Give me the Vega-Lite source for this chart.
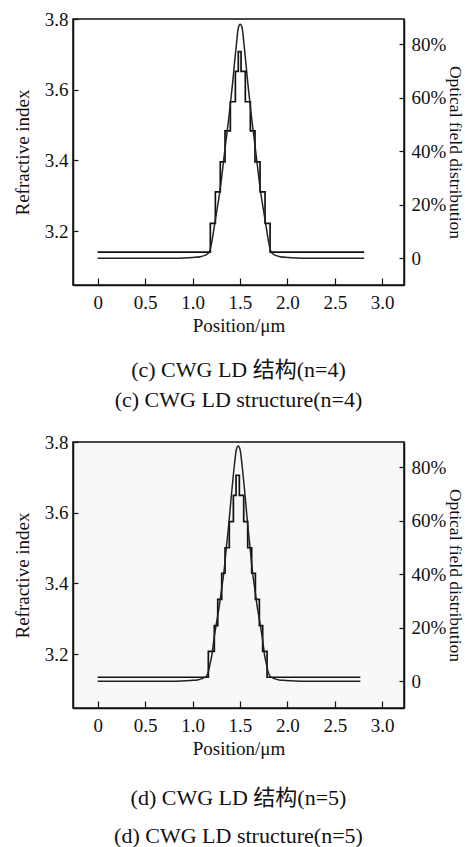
{
  "$schema": "https://vega.github.io/schema/vega-lite/v6.json",
  "padding": {"left": 12, "top": 9, "right": 0, "bottom": 0},
  "background": "white",
  "spacing": 20,
  "config": {
    "font": "Liberation Serif",
    "view": {"stroke": "#111", "strokeWidth": 1.5},
    "axis": {
      "grid": false, "domain": true, "domainColor": "#111", "domainWidth": 1.5,
      "tickColor": "#111", "tickWidth": 1.2, "labelFlush": false,
      "labelFont": "Liberation Serif", "labelFontSize": 19, "labelColor": "#111",
      "titleFont": "Liberation Serif", "titleFontSize": 19, "titleFontWeight": "normal", "titleColor": "#111"
    },
    "title": {"font": "Liberation Serif, Noto Sans CJK SC", "subtitleFont": "Liberation Serif, Noto Sans CJK SC", "fontWeight": "normal", "subtitleFontWeight": "normal", "fontSize": 22, "subtitleFontSize": 22, "color": "#111", "subtitleColor": "#111", "anchor": "middle", "orient": "bottom"}
  },
  "vconcat": [
    {
      "width": 331, "height": 266,
      "title": {"text": "(c) CWG LD 结构(n=4)", "subtitle": "(c) CWG LD structure(n=4)", "orient": "bottom", "offset": 25, "subtitlePadding": 8},
      "layer": [
        {
          "data": {"values": [
            {"x": 0, "n": 3.141}, {"x": 1.188, "n": 3.222}, {"x": 1.241, "n": 3.311}, {"x": 1.293, "n": 3.396},
            {"x": 1.343, "n": 3.484}, {"x": 1.399, "n": 3.566}, {"x": 1.452, "n": 3.652}, {"x": 1.483, "n": 3.708},
            {"x": 1.512, "n": 3.652}, {"x": 1.557, "n": 3.566}, {"x": 1.61, "n": 3.484}, {"x": 1.659, "n": 3.396},
            {"x": 1.712, "n": 3.311}, {"x": 1.765, "n": 3.222}, {"x": 1.818, "n": 3.141}, {"x": 2.81, "n": 3.141}
          ]},
          "mark": {"type": "line", "interpolate": "step-after", "color": "#111", "strokeWidth": 1.7},
          "encoding": {
            "x": {"field": "x", "type": "quantitative", "scale": {"domain": [-0.26, 3.23], "nice": false, "zero": false},
                  "axis": {"title": "Position/μm", "values": [0, 0.5, 1, 1.5, 2, 2.5, 3], "labelExpr": "datum.value == 0 ? '0' : format(datum.value, '.1f')", "tickSize": -7, "labelPadding": 15, "titlePadding": 4}},
            "y": {"field": "n", "type": "quantitative", "scale": {"domain": [3.048, 3.8], "nice": false, "zero": false},
                  "axis": {"orient": "left", "title": "Refractive index", "values": [3.2, 3.4, 3.6, 3.8], "format": ".1f", "tickSize": -5, "labelPadding": 10, "titlePadding": 12}}
          }
        },
        {
          "data": {"values": [
            {"x": 0, "E": 0}, {"x": 0.803, "E": 0}, {"x": 0.903, "E": 0.001}, {"x": 1.003, "E": 0.003}, {"x": 1.083, "E": 0.006},
            {"x": 1.123, "E": 0.01}, {"x": 1.153, "E": 0.015}, {"x": 1.173, "E": 0.022}, {"x": 1.188, "E": 0.035}, {"x": 1.203, "E": 0.06},
            {"x": 1.228, "E": 0.115}, {"x": 1.253, "E": 0.17}, {"x": 1.278, "E": 0.225}, {"x": 1.303, "E": 0.29}, {"x": 1.328, "E": 0.365},
            {"x": 1.353, "E": 0.44}, {"x": 1.378, "E": 0.51}, {"x": 1.403, "E": 0.59}, {"x": 1.423, "E": 0.655}, {"x": 1.443, "E": 0.73},
            {"x": 1.463, "E": 0.8}, {"x": 1.483, "E": 0.862}, {"x": 1.503, "E": 0.875},
            {"x": 1.523, "E": 0.862}, {"x": 1.543, "E": 0.8}, {"x": 1.563, "E": 0.73}, {"x": 1.583, "E": 0.655}, {"x": 1.603, "E": 0.59},
            {"x": 1.628, "E": 0.51}, {"x": 1.653, "E": 0.44}, {"x": 1.678, "E": 0.365}, {"x": 1.703, "E": 0.29}, {"x": 1.728, "E": 0.225},
            {"x": 1.753, "E": 0.17}, {"x": 1.778, "E": 0.115}, {"x": 1.803, "E": 0.06}, {"x": 1.818, "E": 0.035}, {"x": 1.833, "E": 0.022},
            {"x": 1.853, "E": 0.015}, {"x": 1.883, "E": 0.01}, {"x": 1.923, "E": 0.006}, {"x": 2.003, "E": 0.003}, {"x": 2.103, "E": 0.001},
            {"x": 2.203, "E": 0}, {"x": 2.81, "E": 0}
          ]},
          "mark": {"type": "line", "interpolate": "monotone", "color": "#222", "strokeWidth": 1.5},
          "encoding": {
            "x": {"field": "x", "type": "quantitative", "scale": {"domain": [-0.26, 3.23], "nice": false, "zero": false},
                  "axis": {"title": "Position/μm", "values": [0, 0.5, 1, 1.5, 2, 2.5, 3], "labelExpr": "datum.value == 0 ? '0' : format(datum.value, '.1f')", "tickSize": -7, "labelPadding": 15, "titlePadding": 4}},
            "y": {"field": "E", "type": "quantitative", "scale": {"domain": [-0.1, 0.895], "nice": false, "zero": false},
                  "axis": {"orient": "right", "title": "Optical field distribution", "titleFontSize": 17.5, "values": [0, 0.2, 0.4, 0.6, 0.8], "labelExpr": "datum.value == 0 ? '0' : format(datum.value, '.0%')", "tickSize": -5, "labelPadding": 12, "titlePadding": 0}}
          }
        }
      ],
      "resolve": {"scale": {"y": "independent"}}
    },
    {
      "width": 331, "height": 266,
      "view": {"fill": "#f8f8f8"},
      "title": {"text": "(d) CWG LD 结构(n=5)", "subtitle": "(d) CWG LD structure(n=5)", "orient": "bottom", "offset": 30, "subtitlePadding": 16},
      "layer": [
        {
          "data": {"values": [
            {"x": 0, "n": 3.135}, {"x": 1.167, "n": 3.208}, {"x": 1.23, "n": 3.281}, {"x": 1.266, "n": 3.355}, {"x": 1.308, "n": 3.429},
            {"x": 1.343, "n": 3.501}, {"x": 1.388, "n": 3.575}, {"x": 1.431, "n": 3.649}, {"x": 1.459, "n": 3.706}, {"x": 1.494, "n": 3.649},
            {"x": 1.54, "n": 3.575}, {"x": 1.582, "n": 3.501}, {"x": 1.624, "n": 3.429}, {"x": 1.663, "n": 3.355}, {"x": 1.705, "n": 3.281},
            {"x": 1.74, "n": 3.208}, {"x": 1.786, "n": 3.135}, {"x": 2.77, "n": 3.135}
          ]},
          "mark": {"type": "line", "interpolate": "step-after", "color": "#111", "strokeWidth": 1.7},
          "encoding": {
            "x": {"field": "x", "type": "quantitative", "scale": {"domain": [-0.26, 3.23], "nice": false, "zero": false},
                  "axis": {"title": "Position/μm", "values": [0, 0.5, 1, 1.5, 2, 2.5, 3], "labelExpr": "datum.value == 0 ? '0' : format(datum.value, '.1f')", "tickSize": -7, "labelPadding": 15, "titlePadding": 4}},
            "y": {"field": "n", "type": "quantitative", "scale": {"domain": [3.048, 3.8], "nice": false, "zero": false},
                  "axis": {"orient": "left", "title": "Refractive index", "values": [3.2, 3.4, 3.6, 3.8], "format": ".1f", "tickSize": -5, "labelPadding": 10, "titlePadding": 12}}
          }
        },
        {
          "data": {"values": [
            {"x": 0, "E": 0}, {"x": 0.782, "E": 0}, {"x": 0.882, "E": 0.001}, {"x": 0.982, "E": 0.003}, {"x": 1.052, "E": 0.005},
            {"x": 1.102, "E": 0.01}, {"x": 1.132, "E": 0.015}, {"x": 1.152, "E": 0.022}, {"x": 1.167, "E": 0.035}, {"x": 1.182, "E": 0.06},
            {"x": 1.205, "E": 0.1}, {"x": 1.227, "E": 0.16}, {"x": 1.249, "E": 0.21}, {"x": 1.282, "E": 0.28}, {"x": 1.307, "E": 0.345},
            {"x": 1.332, "E": 0.41}, {"x": 1.357, "E": 0.5}, {"x": 1.382, "E": 0.585}, {"x": 1.402, "E": 0.665}, {"x": 1.422, "E": 0.74},
            {"x": 1.442, "E": 0.81}, {"x": 1.462, "E": 0.866}, {"x": 1.482, "E": 0.88},
            {"x": 1.502, "E": 0.866}, {"x": 1.522, "E": 0.81}, {"x": 1.542, "E": 0.74}, {"x": 1.562, "E": 0.665}, {"x": 1.582, "E": 0.585},
            {"x": 1.607, "E": 0.5}, {"x": 1.632, "E": 0.41}, {"x": 1.657, "E": 0.345}, {"x": 1.682, "E": 0.28}, {"x": 1.715, "E": 0.21},
            {"x": 1.737, "E": 0.16}, {"x": 1.759, "E": 0.1}, {"x": 1.782, "E": 0.06}, {"x": 1.797, "E": 0.035}, {"x": 1.812, "E": 0.022},
            {"x": 1.832, "E": 0.015}, {"x": 1.862, "E": 0.01}, {"x": 1.912, "E": 0.005}, {"x": 1.982, "E": 0.003}, {"x": 2.082, "E": 0.001},
            {"x": 2.182, "E": 0}, {"x": 2.77, "E": 0}
          ]},
          "mark": {"type": "line", "interpolate": "monotone", "color": "#222", "strokeWidth": 1.5},
          "encoding": {
            "x": {"field": "x", "type": "quantitative", "scale": {"domain": [-0.26, 3.23], "nice": false, "zero": false},
                  "axis": {"title": "Position/μm", "values": [0, 0.5, 1, 1.5, 2, 2.5, 3], "labelExpr": "datum.value == 0 ? '0' : format(datum.value, '.1f')", "tickSize": -7, "labelPadding": 15, "titlePadding": 4}},
            "y": {"field": "E", "type": "quantitative", "scale": {"domain": [-0.1, 0.895], "nice": false, "zero": false},
                  "axis": {"orient": "right", "title": "Optical field distribution", "titleFontSize": 17.5, "values": [0, 0.2, 0.4, 0.6, 0.8], "labelExpr": "datum.value == 0 ? '0' : format(datum.value, '.0%')", "tickSize": -5, "labelPadding": 12, "titlePadding": 0}}
          }
        }
      ],
      "resolve": {"scale": {"y": "independent"}}
    }
  ]
}
